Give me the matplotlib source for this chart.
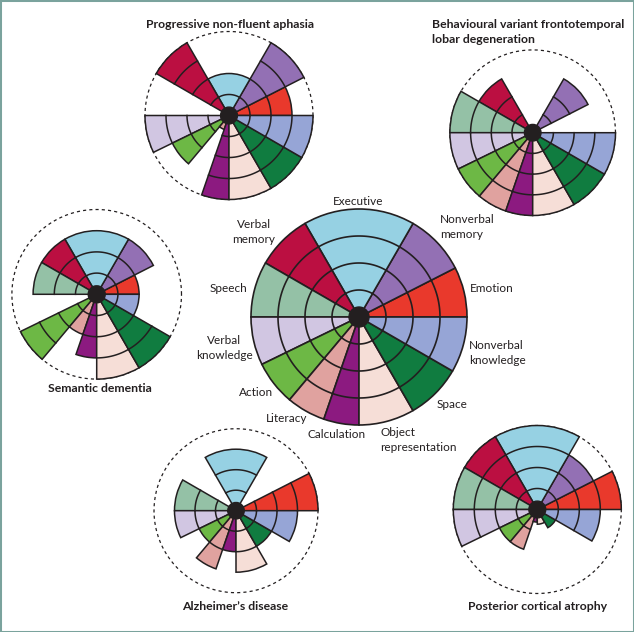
import numpy as np
import matplotlib
matplotlib.use("Agg")
import matplotlib.pyplot as plt
from matplotlib.patches import Rectangle

# cognitive domains, going anticlockwise from east
domains = ["Emotion", "Nonverbal memory", "Executive", "Verbal memory", "Speech",
           "Verbal knowledge", "Action", "Literacy", "Calculation",
           "Object representation", "Space", "Nonverbal knowledge"]
edges_deg = [0, 27, 60, 120, 150, 180, 206, 230, 251, 270, 300, 330, 360]
domain_colors = ["#e9392c", "#9370b4", "#96d1e3", "#bb0f41", "#94c1a6", "#d1c6e2",
                 "#6db845", "#e0a29f", "#8c1a80", "#f6ded7", "#107c40", "#96a5d6"]

# scores 0-4 per domain (same order as domains)
normal = [4, 4, 4, 4, 4, 4, 4, 4, 4, 4, 4, 4]
pnfa = [3, 4, 2, 4, 0, 4, 3, 0.7, 4, 4, 4, 4]
bvftd = [0, 3, 0, 3, 4, 4, 4, 4, 4, 4, 4, 4]
semantic = [2, 3, 3, 3, 3, 0, 4, 2, 3, 4, 4, 2]
alzheimer = [4, 0, 3, 0, 3, 3, 2, 3, 2, 3, 2, 3]
pca = [4, 3, 4, 4, 4, 4, 2, 2, 0.6, 0.7, 1, 3]

W, H = 634, 632
RMAX = 4.3
INK = "#231f20"
plt.rcParams['font.family'] = ['Lato', 'DejaVu Sans']

fig = plt.figure(figsize=(W / 100, H / 100), dpi=100)
fig.patch.set_facecolor("white")


def wheel(cx, cy, unit, scores, dashed=True, lw=1.1, dot=0.4):
    r = RMAX * unit
    ax = fig.add_axes([(cx - r) / W, 1 - (cy + r) / H, 2 * r / W, 2 * r / H],
                      projection="polar")
    ax.set_ylim(0, RMAX)
    ax.axis("off")
    th = np.deg2rad(edges_deg)
    if dashed:
        t = np.linspace(0, 2 * np.pi, 300)
        ax.plot(t, np.full_like(t, 4), color=INK, lw=0.9, ls=(0, (2.5, 2.5)), zorder=1)
    for i, v in enumerate(scores):
        if v <= 0:
            continue
        t0, t1 = th[i], th[i + 1]
        ax.bar((t0 + t1) / 2, v, width=t1 - t0, bottom=0, color=domain_colors[i],
               edgecolor=INK, linewidth=lw, zorder=2)
        for lev in (1, 2, 3):
            if lev < v - 0.05:
                t = np.linspace(t0, t1, 40)
                ax.plot(t, np.full_like(t, lev), color=INK, lw=lw, zorder=3)
    ax.bar(0, dot, width=2 * np.pi, bottom=0, color=INK, edgecolor=INK, zorder=5)
    return ax


wheel(359, 317, 27, normal, dashed=False, lw=1.2, dot=0.37)
wheel(229, 115.5, 21, pnfa)
wheel(532.7, 132.7, 20.7, bvftd)
wheel(96.7, 294.3, 21.2, semantic)
wheel(236, 510.7, 20.5, alzheimer)
wheel(537.3, 509.5, 21, pca)


def px(x, y):
    return x / W, 1 - y / H


# domain labels around the central wheel
label_layout = [
    ("Executive", 358, 202, "center"),
    ("Nonverbal\nmemory", 440, 227, "left"),
    ("Emotion", 470, 289, "left"),
    ("Nonverbal\nknowledge", 469, 353, "left"),
    ("Space", 437, 405, "left"),
    ("Object\nrepresentation", 380, 440, "left"),
    ("Calculation", 336.5, 435, "center"),
    ("Literacy", 287, 419, "center"),
    ("Action", 256, 392, "center"),
    ("Verbal\nknowledge", 224, 348, "center"),
    ("Speech", 228.5, 289, "center"),
    ("Verbal\nmemory", 254, 232, "center"),
]
for txt, x, y, ha in label_layout:
    fig.text(*px(x, y), txt, ha=ha, va="center", fontsize=8.5, color=INK,
             linespacing=1.45)

titles = [
    ("Progressive non-fluent aphasia", 230, 24, "center"),
    ("Behavioural variant frontotemporal\nlobar degeneration", 432, 32, "left"),
    ("Semantic dementia", 100, 388, "center"),
    ("Alzheimer\u2019s disease", 235, 607, "center"),
    ("Posterior cortical atrophy", 538, 607, "center"),
]
for txt, x, y, ha in titles:
    fig.text(*px(x, y), txt, ha=ha, va="center", fontsize=8.8, fontweight="bold",
             color=INK, linespacing=1.35)

fig.patches.append(Rectangle((0, 0), 1, 1, transform=fig.transFigure, fill=False,
                             edgecolor="#7aa39d", linewidth=2.2))

fig.savefig("out.png", dpi=100)
